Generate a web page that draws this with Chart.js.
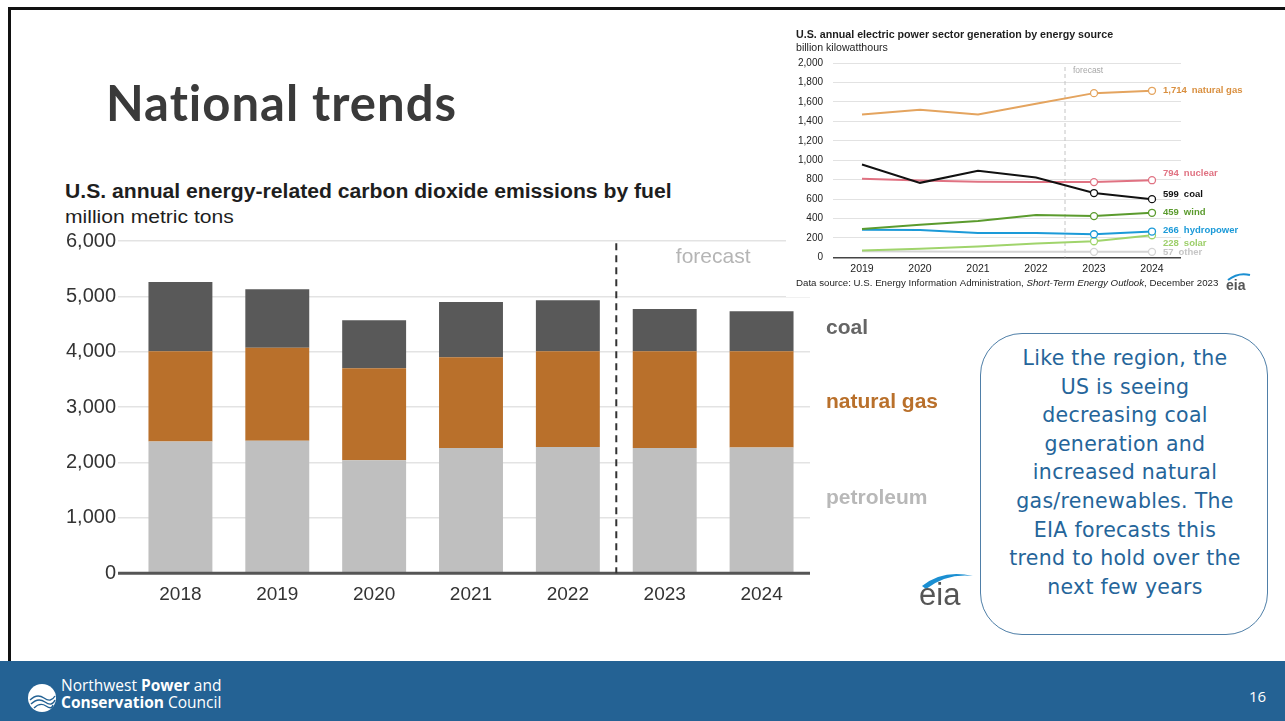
<!DOCTYPE html>
<html>
<head>
<meta charset="utf-8">
<script src="https://cdn.jsdelivr.net/npm/chart.js@4.4.1/dist/chart.umd.min.js"></script>
<style>
  html, body { margin: 0; padding: 0; background: #fff; }
  body { width: 1285px; height: 721px; position: relative; overflow: hidden; font-family: "Liberation Sans", Arial, sans-serif; }
  .abs { position: absolute; }
  #frameTop { left: 8px; top: 7px; width: 1277px; height: 3px; background: #111; }
  #frameLeft { left: 8px; top: 7px; width: 3px; height: 656px; background: #111; }
  #footer { left: 0; top: 661px; width: 1285px; height: 60px; background: #246294; }
  #heading { left: 106px; top: 78px; font-family: Lato, sans-serif; font-weight: 700; font-size: 49px; line-height: 49px; letter-spacing: 1px; color: #3a3a3a; white-space: nowrap; }
  #barTitle { left: 65px; top: 180px; font-weight: 700; font-size: 19.5px; line-height: 22px; color: #1e1e1e; white-space: nowrap; transform: scaleX(1.085); transform-origin: left center; }
  #barSub { left: 65px; top: 206px; font-size: 18.5px; line-height: 22px; color: #1e1e1e; white-space: nowrap; transform: scaleX(1.14); transform-origin: left center; }
  #emissions { left: 50px; top: 225px; z-index: 1; }
  #generation { left: 786px; top: 25px; z-index: 2; background: #fff; }
  #genTitle { left: 796px; top: 28px; z-index: 3; font-weight: 700; font-size: 10.7px; line-height: 13px; color: #1e1e1e; white-space: nowrap; }
  #genSub { left: 796px; top: 41px; z-index: 3; font-size: 10.6px; line-height: 12px; color: #1e1e1e; white-space: nowrap; }
  #eiaBig { left: 915px; top: 568px; z-index: 3; }
  #note { left: 980px; top: 333px; width: 288px; height: 302px; border: 1.3px solid #4f7fa8; border-radius: 42px; box-sizing: border-box; z-index: 3; }
  #noteText { left: 980px; top: 344px; width: 290px; z-index: 4; text-align: center; font-family: "DejaVu Sans", sans-serif; font-size: 20.5px; line-height: 28.6px; letter-spacing: 0.3px; color: #25659a; white-space: nowrap; }
  #orgLogo { left: 27px; top: 683px; }
  #orgName { left: 61px; top: 677px; font-family: "Open Sans", sans-serif; font-size: 15.5px; line-height: 17px; color: #fff; white-space: nowrap; }
  #pageNo { left: 1249px; top: 686px; font-family: "Open Sans", sans-serif; font-size: 15px; line-height: 20px; color: #fff; }
</style>
</head>
<body>
<div id="frameTop" class="abs"></div>
<div id="frameLeft" class="abs"></div>

<div id="heading" class="abs">National trends</div>
<div id="barTitle" class="abs">U.S. annual energy-related carbon dioxide emissions by fuel</div>
<div id="barSub" class="abs">million metric tons</div>
<canvas id="emissions" class="abs" width="900" height="400"></canvas>

<svg id="eiaBig" class="abs" width="64" height="42" viewBox="0 0 64 42">
  <path d="M7 18 Q28 1 58 8 Q32 5 11 21 Z" fill="#1b8fd2"/>
  <text x="4" y="37" font-family="Liberation Sans, Arial" font-size="31" fill="#555">eia</text>
</svg>

<canvas id="generation" class="abs" width="499" height="272"></canvas>
<div id="genTitle" class="abs">U.S. annual electric power sector generation by energy source</div>
<div id="genSub" class="abs">billion kilowatthours</div>

<div id="note" class="abs"></div>
<div id="noteText" class="abs">Like the region, the<br>US is seeing<br>decreasing coal<br>generation and<br>increased natural<br>gas/renewables. The<br>EIA forecasts this<br>trend to hold over the<br>next few years</div>

<div id="footer" class="abs"></div>
<svg id="orgLogo" class="abs" width="30" height="30" viewBox="0 0 30 30">
  <circle cx="15" cy="15" r="14" fill="#fff"/>
  <path d="M3 17 Q10 10 17 15 T28 13" stroke="#246294" stroke-width="1.4" fill="none"/>
  <path d="M4 21 Q11 14 18 19 T28 17" stroke="#246294" stroke-width="1.4" fill="none"/>
  <path d="M7 25 Q13 19 19 23 T26 22" stroke="#246294" stroke-width="1.4" fill="none"/>
</svg>
<div id="orgName" class="abs">Northwest <b>Power</b> and<br><b>Conservation</b> Council</div>
<div id="pageNo" class="abs">16</div>

<script>
// CO2 emissions by fuel, million metric tons
const years = ['2018', '2019', '2020', '2021', '2022', '2023', '2024'];
const petroleum = [2380, 2390, 2040, 2260, 2280, 2260, 2270];
const naturalGas = [1630, 1680, 1660, 1640, 1730, 1750, 1740];
const coal = [1250, 1060, 870, 1000, 920, 760, 720];
const emissionTicks = [0, 1000, 2000, 3000, 4000, 5000, 6000];

// electric power generation, billion kWh
const genYears = ['2019', '2020', '2021', '2022', '2023', '2024'];
const genGas = [1470, 1520, 1470, 1580, 1690, 1714];
const genNuclear = [808, 790, 778, 775, 775, 794];
const genCoal = [955, 767, 891, 822, 662, 599];
const genWind = [292, 335, 375, 435, 425, 459];
const genHydro = [285, 283, 252, 250, 238, 266];
const genSolar = [70, 90, 112, 142, 166, 228];
const genOther = [62, 60, 58, 57, 57, 57];
const genTicks = [0, 200, 400, 600, 800, 1000, 1200, 1400, 1600, 1800, 2000];

const FONT = '"Liberation Sans", Arial, sans-serif';

const emissionsNotes = {
  id: 'emissionsNotes',
  afterDatasetsDraw(chart) {
    const { ctx, chartArea, scales: { x, y } } = chart;
    ctx.save();
    // baseline over the bars
    ctx.strokeStyle = '#555';
    ctx.lineWidth = 3;
    ctx.beginPath();
    ctx.moveTo(chartArea.left - 14, y.getPixelForValue(0));
    ctx.lineTo(chartArea.right, y.getPixelForValue(0));
    ctx.stroke();

    // forecast divider
    const fx = (x.getPixelForValue(4) + x.getPixelForValue(5)) / 2;
    ctx.strokeStyle = '#333';
    ctx.lineWidth = 2;
    ctx.setLineDash([7, 5]);
    ctx.beginPath();
    ctx.moveTo(fx, y.getPixelForValue(5960));
    ctx.lineTo(fx, y.getPixelForValue(0));
    ctx.stroke();
    ctx.setLineDash([]);

    ctx.textBaseline = 'middle';
    ctx.textAlign = 'center';
    ctx.fillStyle = '#b5b5b5';
    ctx.font = '21px ' + FONT;
    ctx.fillText('forecast', (x.getPixelForValue(5) + x.getPixelForValue(6)) / 2, y.getPixelForValue(5700));

    // series names to the right
    ctx.textAlign = 'left';
    const lx = chartArea.right + 16;
    ctx.font = 'bold 21px ' + FONT;
    ctx.fillStyle = '#656565';
    ctx.fillText('coal', lx, y.getPixelForValue(4430));
    ctx.fillStyle = '#b9702b';
    ctx.fillText('natural gas', lx, y.getPixelForValue(3090));
    ctx.fillStyle = '#b8b8b8';
    ctx.fillText('petroleum', lx, y.getPixelForValue(1355));
    ctx.restore();
  }
};

new Chart(document.getElementById('emissions'), {
  type: 'bar',
  data: {
    labels: years,
    datasets: [
      { label: 'petroleum', data: petroleum, backgroundColor: '#bfbfbf' },
      { label: 'natural gas', data: naturalGas, backgroundColor: '#b9702b' },
      { label: 'coal', data: coal, backgroundColor: '#595959' }
    ]
  },
  options: {
    responsive: false,
    animation: false,
    layout: { padding: { top: 16, right: 140, bottom: 9, left: 0 } },
    plugins: { legend: { display: false }, tooltip: { enabled: false } },
    datasets: { bar: { barPercentage: 0.66, categoryPercentage: 1, borderWidth: 0 } },
    scales: {
      x: {
        stacked: true,
        grid: { display: false, drawTicks: false },
        border: { display: false },
        ticks: { padding: 10, color: '#333', font: { family: FONT, size: 19 } }
      },
      y: {
        stacked: true,
        min: 0,
        max: 6000,
        afterBuildTicks: s => { s.ticks = emissionTicks.map(v => ({ value: v })); },
        afterFit: s => { s.width = 82; },
        border: { display: false },
        grid: { color: '#e3e3e3', lineWidth: 1.5, tickLength: 14 },
        ticks: { padding: 2, color: '#333', font: { family: FONT, size: 20 } }
      }
    }
  },
  plugins: [emissionsNotes]
});

const genSeries = [
  { name: 'coal', data: genCoal, color: '#111111', text: '#111111', nudge: -5 },
  { name: 'natural gas', data: genGas, color: '#e4a45f', text: '#d98f3f', nudge: 0 },
  { name: 'nuclear', data: genNuclear, color: '#e07282', text: '#e07282', nudge: -7 },
  { name: 'wind', data: genWind, color: '#5b9b2e', text: '#5b9b2e', nudge: 0 },
  { name: 'hydropower', data: genHydro, color: '#1b9ad8', text: '#1b9ad8', nudge: -1 },
  { name: 'solar', data: genSolar, color: '#a0d46c', text: '#9dcf6a', nudge: 8 },
  { name: 'other', data: genOther, color: '#d4d4d4', text: '#c6c6c6', nudge: 1 }
];

const generationNotes = {
  id: 'generationNotes',
  beforeDatasetsDraw(chart) {
    const { ctx, chartArea, scales: { x } } = chart;
    const fx = (x.getPixelForValue(3) + x.getPixelForValue(4)) / 2;
    ctx.save();
    ctx.strokeStyle = '#c4c4c4';
    ctx.lineWidth = 1;
    ctx.setLineDash([4, 3]);
    ctx.beginPath();
    ctx.moveTo(fx, chartArea.top + 4);
    ctx.lineTo(fx, chartArea.bottom);
    ctx.stroke();
    ctx.setLineDash([]);
    ctx.fillStyle = '#a8a8a8';
    ctx.font = '8.5px ' + FONT;
    ctx.textBaseline = 'middle';
    ctx.fillText('forecast', fx + 8, chartArea.top + 8);
    ctx.restore();
  },
  afterDatasetsDraw(chart) {
    const { ctx, scales: { x, y } } = chart;
    ctx.save();
    ctx.textBaseline = 'middle';
    ctx.font = 'bold 9.5px ' + FONT;
    const last = genYears.length - 1;
    genSeries.forEach(s => {
      const v = s.data[last];
      const px = x.getPixelForValue(last) + 11;
      const py = y.getPixelForValue(v) + s.nudge;
      ctx.fillStyle = s.text;
      const num = v.toLocaleString('en-US');
      ctx.fillText(num, px, py);
      ctx.fillText(s.name, px + ctx.measureText(num).width + 5, py);
    });

    // source line
    ctx.fillStyle = '#1e1e1e';
    let sx = 10;
    const sy = 258;
    const parts = [
      ['Data source: U.S. Energy Information Administration, ', ''],
      ['Short-Term Energy Outlook', 'italic '],
      [', December 2023', '']
    ];
    parts.forEach(([t, style]) => {
      ctx.font = style + '9.7px ' + FONT;
      ctx.fillText(t, sx, sy);
      sx += ctx.measureText(t).width;
    });

    // small eia mark
    ctx.fillStyle = '#555';
    ctx.font = 'bold 14px ' + FONT;
    ctx.fillText('eia', 440, 261);
    ctx.strokeStyle = '#1b8fd2';
    ctx.lineWidth = 2;
    ctx.beginPath();
    ctx.moveTo(442, 255);
    ctx.quadraticCurveTo(452, 247, 464, 250);
    ctx.stroke();
    ctx.restore();
  }
};

new Chart(document.getElementById('generation'), {
  type: 'line',
  data: {
    labels: genYears,
    datasets: genSeries.map(s => ({
      label: s.name,
      data: s.data,
      borderColor: s.color,
      borderWidth: 2,
      tension: 0,
      pointRadius: ctx => (ctx.dataIndex >= 4 ? 3.5 : 0),
      pointBackgroundColor: '#fff',
      pointBorderColor: s.color,
      pointBorderWidth: 1.3
    }))
  },
  options: {
    responsive: false,
    animation: false,
    layout: { padding: { top: 38, right: 104, bottom: 17, left: 0 } },
    plugins: { legend: { display: false }, tooltip: { enabled: false } },
    scales: {
      x: {
        offset: true,
        grid: { display: false, drawTicks: false },
        border: { display: false },
        ticks: { padding: 5, color: '#222', font: { family: FONT, size: 10.5 } }
      },
      y: {
        min: 0,
        max: 2000,
        afterBuildTicks: s => { s.ticks = genTicks.map(v => ({ value: v })); },
        afterFit: s => { s.width = 47; },
        border: { display: false },
        grid: {
          drawTicks: false,
          color: c => (c.tick.value === 0 ? '#444' : '#e2e2e2'),
          lineWidth: c => (c.tick.value === 0 ? 1.5 : 1)
        },
        ticks: { padding: 10, color: '#222', font: { family: FONT, size: 10 } }
      }
    }
  },
  plugins: [generationNotes]
});
</script>
</body>
</html>
